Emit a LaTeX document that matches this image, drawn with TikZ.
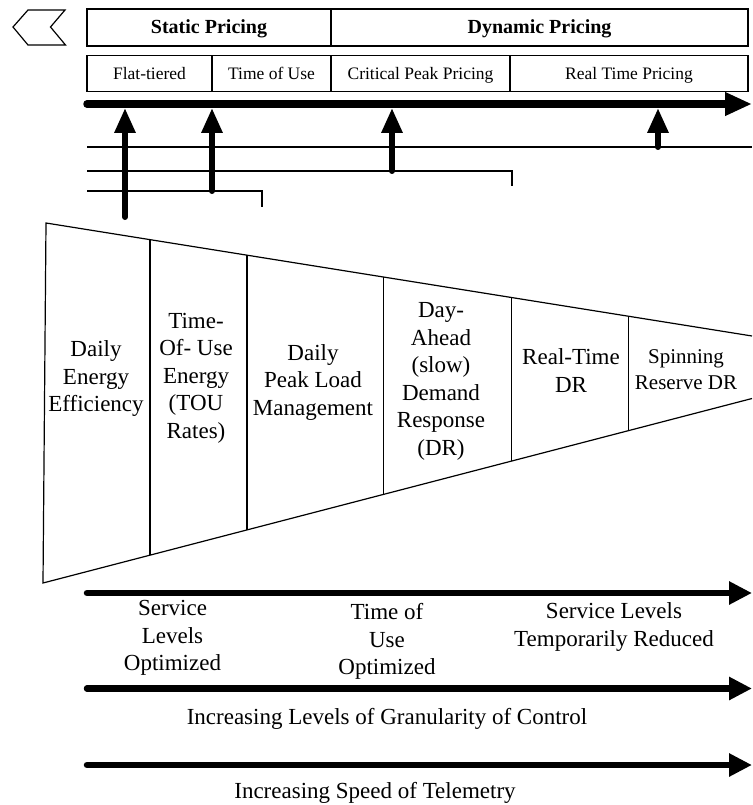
\documentclass[tikz,border=0pt]{standalone}
\usepackage{fontspec}
\setmainfont{Liberation Serif}
\usetikzlibrary{arrows.meta}
\begin{document}
\begin{tikzpicture}[x=1pt,y=-1pt,
  thin line/.style={line width=1.2pt},
  box/.style={draw, line width=1.2pt, rectangle, inner sep=0pt},
  headbox/.style={box, minimum height=37pt, text height=16pt, text depth=3pt,
    font=\fontsize{20}{24}\selectfont\bfseries},
  tierbox/.style={box, minimum height=36pt, text height=15pt, text depth=2.4pt,
    font=\fontsize{17.5}{21}\selectfont},
  celltext/.style={font=\fontsize{23}{27.5}\selectfont, align=center, inner sep=0pt},
  axistext/.style={font=\fontsize{23}{27.5}\selectfont, align=center, inner sep=0pt},
  timeline/.style={line width=7.5pt, line cap=round, -{Triangle[length=27pt,width=22pt]}},
  marker/.style={line width=6pt, line cap=round, -{Triangle[length=25pt,width=20pt]}},
  trend/.style={line width=6.5pt, line cap=round, -{Triangle[length=23pt,width=22pt]}},
]
\useasboundingbox (0,0) rectangle (752,805);

% back chevron
\draw[thin line, line join=miter] (13,27) -- (28,10) -- (65,10) -- (50.5,27) -- (65.5,45) -- (28,45) -- cycle;

% pricing headers
\node[headbox, minimum width=244pt] (static) at (209,27.5) {Static Pricing};
\node[headbox, minimum width=417pt] (dynamic) at (539.5,27.5) {Dynamic Pricing};

\node[tierbox, minimum width=125pt] (flat) at (149.5,73.7) {Flat-tiered};
\node[tierbox, minimum width=119pt] (tou) at (271.5,73.7) {Time of Use};
\node[tierbox, minimum width=179pt] (cpp) at (420.5,73.7) {Critical Peak Pricing};
\node[tierbox, minimum width=238pt] (rtp) at (629,73.7) {Real Time Pricing};

% timeline
\coordinate (tl0) at (87,104);
\coordinate (tl1) at (752,104);
\draw[timeline] (tl0) -- (tl1);

% guide rails
\coordinate (r1a) at (87,147);  \coordinate (r1b) at (752,147);
\coordinate (r2a) at (87,171);  \coordinate (r2b) at (512,171); \coordinate (r2c) at (512,186);
\coordinate (r3a) at (87,191);  \coordinate (r3b) at (262,191); \coordinate (r3c) at (262,207);
\draw[thin line] (r1a) -- (r1b);
\draw[thin line] (r2a) -- (r2b) -- (r2c);
\draw[thin line] (r3a) -- (r3b) -- (r3c);

% markers pointing to the timeline
\coordinate (m1) at (125,217);  \coordinate (m1t) at (125,108);
\coordinate (m2) at (212,191);  \coordinate (m2t) at (212,108);
\coordinate (m3) at (392,171);  \coordinate (m3t) at (392,108);
\coordinate (m4) at (658,147);  \coordinate (m4t) at (658,108);
\draw[marker] (m1) -- (m1t);
\draw[marker] (m2) -- (m2t);
\draw[marker] (m3) -- (m3t);
\draw[marker] (m4) -- (m4t);

% funnel
\draw[thin line, line join=miter] (752,336) -- (46,223) -- (43,583) -- (752,398.5);
\draw[thin line] (150,239.6) -- (150,555.2);
\draw[thin line] (247,255.2) -- (247,529.9);
\draw[thin line] (383.5,277.2) -- (383.5,494.4);
\draw[thin line] (511.5,297.5) -- (511.5,461.1);
\draw[thin line] (628.5,316.2) -- (628.5,430.7);

\node[celltext] (c1) at (96,378.5) {Daily\\Energy\\Efficiency};
\node[celltext] (c2) at (196,378) {Time-\\Of- Use\\Energy\\(TOU\\Rates)};
\node[celltext] (c3) at (313,382) {Daily\\Peak Load\\Management};
\node[celltext] (c4) at (441,381.4) {Day-\\Ahead\\(slow)\\Demand\\Response\\(DR)};
\node[celltext] (c5) at (571,370.5) {Real-Time\\DR};
\node[celltext, font=\fontsize{21}{26}\selectfont] (c6) at (686,370) {Spinning\\Reserve DR};

% trend arrows
\coordinate (t1a) at (87,593);   \coordinate (t1b) at (752,593);
\coordinate (t2a) at (87,688.5); \coordinate (t2b) at (752,688.5);
\coordinate (t3a) at (87,765);   \coordinate (t3b) at (752,765);
\draw[trend] (t1a) -- (t1b);
\draw[trend] (t2a) -- (t2b);
\draw[trend] (t3a) -- (t3b);

\node[axistext] (s1) at (172.5,638) {Service\\Levels\\Optimized};
\node[axistext] (s2) at (387,641.7) {Time of\\Use\\Optimized};
\node[axistext] (s3) at (614,627) {Service Levels\\Temporarily Reduced};
\node[axistext, anchor=base] (g1) at (387,724) {Increasing Levels of Granularity of Control};
\node[axistext, anchor=base] (g2) at (375,798) {Increasing Speed of Telemetry};
\end{tikzpicture}
\end{document}
